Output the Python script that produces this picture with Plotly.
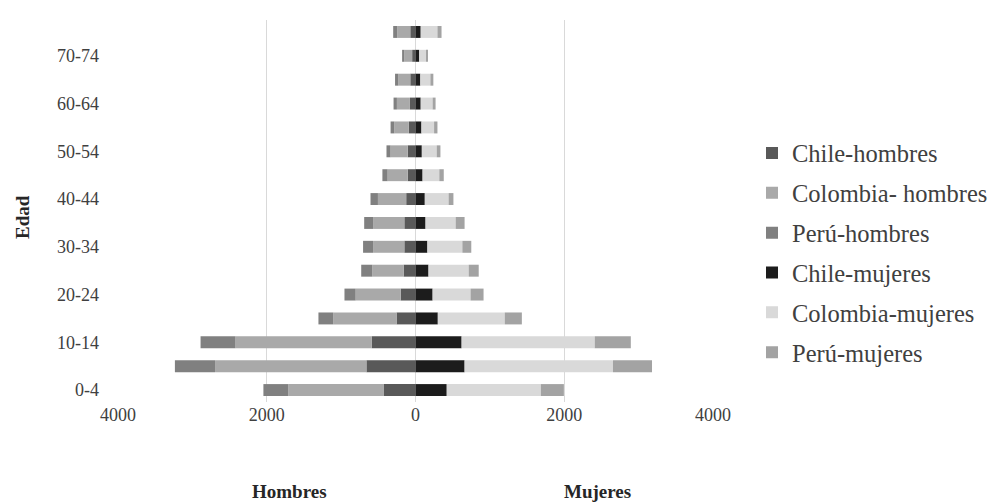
import plotly.graph_objects as go

edades = ["0-4", "5-9", "10-14", "15-19", "20-24", "25-29", "30-34", "35-39",
          "40-44", "45-49", "50-54", "55-59", "60-64", "65-69", "70-74", "75+"]

chile_h = [430, 660, 590, 255, 200, 160, 150, 150, 125, 105, 105, 90, 75, 70, 45, 70]
colombia_h = [1280, 2035, 1830, 850, 605, 420, 420, 420, 380, 270, 230, 195, 175, 160, 105, 175]
peru_h = [335, 540, 470, 200, 150, 150, 135, 120, 100, 70, 55, 50, 45, 45, 30, 55]

chile_m = [420, 660, 620, 300, 230, 175, 160, 135, 125, 95, 85, 80, 70, 65, 50, 70]
colombia_m = [1265, 1995, 1790, 900, 510, 540, 470, 405, 320, 225, 200, 170, 160, 135, 95, 225]
peru_m = [310, 525, 485, 230, 175, 135, 120, 120, 65, 60, 50, 45, 40, 40, 15, 55]

series = [
    ("Chile-hombres", [-v for v in chile_h], "#595959"),
    ("Colombia- hombres", [-v for v in colombia_h], "#a9a9a9"),
    ("Perú-hombres", [-v for v in peru_h], "#808080"),
    ("Chile-mujeres", chile_m, "#1c1c1c"),
    ("Colombia-mujeres", colombia_m, "#d9d9d9"),
    ("Perú-mujeres", peru_m, "#a3a3a3"),
]

fig = go.Figure()
for name, vals, color in series:
    fig.add_trace(go.Bar(
        y=edades, x=vals, name=name, orientation="h", legendgroup=name,
        marker=dict(color=color, line=dict(width=0)),
    ))

font = "Liberation Serif, Times New Roman, serif"
# the page body offsets the figure by 8px
W, H = 983, 496
L, T = 110, 12
pw, ph = 595, 382
R, B = W - L - pw, H - T - ph


def px(x):  # screen x -> paper
    return (x - 8 - L) / pw


def py(y):  # screen y -> paper
    return (T + ph - (y - 8)) / ph


fig.update_layout(
    barmode="relative",
    bargap=0.5,
    width=W, height=H,
    margin=dict(l=L, r=R, t=T, b=B, autoexpand=False),
    plot_bgcolor="white", paper_bgcolor="white",
    font=dict(family=font, size=18, color="#404040"),
    showlegend=True,
    legend=dict(
        traceorder="grouped", x=px(752), y=py(253), yanchor="middle",
        font=dict(family=font, size=24.5, color="#404040"), itemwidth=30,
        tracegroupgap=5,
    ),
    xaxis=dict(
        range=[-4000, 4000],
        tickvals=[-4000, -2000, 0, 2000, 4000],
        ticktext=["4000", "2000", "0", "2000", "4000"],
        showgrid=True, gridcolor="#d9d9d9", gridwidth=1,
        zeroline=False, showline=False, ticks="", automargin=False,
    ),
    yaxis=dict(
        type="category", range=[-0.5, 15.5],
        tickvals=edades[::2], ticktext=edades[::2],
        showgrid=False, zeroline=False, showline=False, ticks="",
        ticklabelstandoff=18, automargin=False,
    ),
    shapes=[dict(type="line", xref="x", yref="paper", x0=0, x1=0, y0=0, y1=1,
                 line=dict(color="#bfbfbf", width=1, dash="dot"), layer="below")],
    annotations=[
        dict(text="<b>Edad</b>", x=px(22), y=py(217), xref="paper", yref="paper",
             xanchor="center", yanchor="middle",
             showarrow=False, textangle=-90, font=dict(size=19, color="#262626")),
        dict(text="<b>Hombres</b>", x=-1700, y=py(491), xref="x", yref="paper",
             xanchor="center", yanchor="middle",
             showarrow=False, font=dict(size=19, color="#262626")),
        dict(text="<b>Mujeres</b>", x=2450, y=py(491), xref="x", yref="paper",
             xanchor="center", yanchor="middle",
             showarrow=False, font=dict(size=19, color="#262626")),
    ],
)

fig.write_html("out.html")
